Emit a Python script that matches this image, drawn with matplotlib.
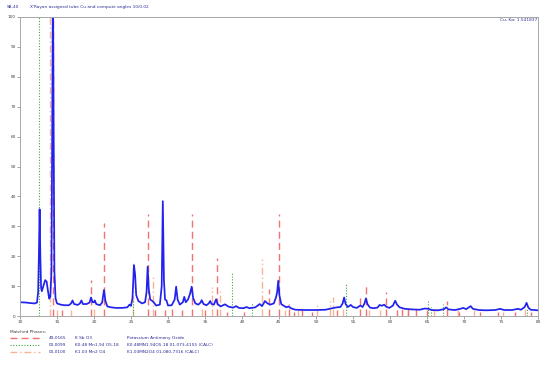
import matplotlib
matplotlib.use('Agg')
import matplotlib.pyplot as plt
import numpy as np

# measured profile (2theta, intensity %)
tt = [10.0, 10.8, 11.5, 12.0, 12.3, 12.45, 12.55, 12.65, 12.75, 12.85, 12.95, 13.15, 13.4, 13.6, 13.8,
      13.95, 14.1, 14.25, 14.35, 14.45, 14.55, 14.65, 14.8, 15.0, 15.5, 16.0, 16.6, 16.9, 17.1, 17.3,
      17.8, 18.1, 18.3, 18.5, 19.0, 19.4, 19.6, 19.8, 20.0, 20.1, 20.3, 20.8, 21.1, 21.35, 21.55,
      21.8, 22.3, 23.0, 23.8, 24.5, 24.8, 25.0, 25.2, 25.4, 25.55, 25.7, 26.0, 26.5, 26.9, 27.1,
      27.25, 27.4, 27.6, 28.0, 28.4, 28.9, 29.15, 29.3, 29.45, 29.6, 29.8, 30.0, 30.5, 30.9, 31.1,
      31.3, 31.6, 32.0, 32.2, 32.4, 32.7, 32.95, 33.2, 33.4, 33.7, 34.1, 34.4, 34.55, 34.8, 35.2,
      35.5, 35.7, 35.9, 36.2, 36.5, 36.7, 37.1, 37.7, 38.2, 38.8, 39.2, 39.6, 40.2, 40.6, 41.0,
      41.8, 42.4, 42.7, 43.1, 43.4, 43.8, 44.3, 44.6, 44.75, 44.9, 45.05, 45.3, 45.6, 46.0, 46.3,
      46.6, 47.2, 48.5, 50.0, 51.3, 52.0, 52.8, 53.3, 53.6, 53.8, 54.0, 54.3, 54.7, 55.0, 55.5,
      56.0, 56.3, 56.55, 56.75, 56.95, 57.3, 57.8, 58.3, 58.6, 58.9, 59.2, 59.5, 59.9, 60.4, 60.7,
      60.95, 61.3, 62.0, 63.0, 64.0, 64.7, 65.2, 65.6, 66.5, 67.3, 67.6, 67.9, 68.8, 69.5, 69.9,
      70.3, 70.9, 71.2, 72.0, 73.0, 74.2, 74.9, 75.4, 76.5, 77.3, 77.7, 78.2, 78.45, 78.7, 79.0, 80.0]
inten = [4.6, 4.5, 4.3, 4.2, 4.5, 8, 20, 35.7, 20, 9.5, 8.3, 10, 12, 11.5, 8,
         5.8, 6.5, 15, 60, 115, 60, 15, 6, 4.2, 3.8, 3.6, 3.6, 4.2, 5.2, 4.0,
         3.7, 4.2, 5.2, 4.0, 4.0, 4.5, 6.2, 4.6, 4.6, 5.2, 4.0, 3.6, 4.5, 8.7, 5.0,
         3.2, 2.9, 2.7, 2.7, 2.9, 3.8, 3.4, 6, 17, 14, 7, 5, 4.2, 4.6, 8,
         16.5, 9, 5.5, 4.8, 3.5, 3.8, 10, 38.4, 12, 5.5, 5.2, 3.5, 3.6, 5.5, 9.8,
         5.5, 3.8, 4.6, 6.4, 4.6, 5.5, 7.2, 9.8, 6, 4.2, 3.8, 4.5, 5.3, 4.0, 3.6,
         4.2, 5.0, 4.0, 3.8, 5.6, 4.0, 3.2, 3.9, 3.1, 2.8, 3.3, 2.7, 2.6, 3.0, 2.6,
         2.9, 4.0, 3.3, 5.0, 4.3, 3.8, 4.2, 6.3, 8, 11.8, 7, 4, 3.5, 2.9, 3.2,
         2.6, 2.1, 2.0, 2.0, 2.1, 2.5, 2.9, 3.0, 4.2, 6.2, 4.0, 3.0, 3.7, 3.0, 2.7,
         3.5, 3.0, 4.2, 5.9, 4.0, 2.8, 2.6, 2.8, 3.7, 3.4, 3.8, 3.1, 2.7, 3.5, 5.1,
         3.8, 2.9, 2.4, 2.2, 2.1, 2.5, 2.4, 2.0, 1.9, 2.3, 2.9, 2.2, 2.0, 2.4, 2.7,
         2.3, 3.3, 2.4, 2.0, 1.9, 2.0, 2.4, 2.0, 2.0, 2.4, 2.1, 3.0, 4.4, 2.8, 2.1, 1.9]

# reference patterns
ksbo3_pos = [14.45, 15.7, 19.6, 21.4, 27.3, 28.2, 29.6, 30.6, 31.9, 33.3, 35.0, 36.6, 38.0, 40.3,
             43.7, 45.0, 46.3, 47.0, 48.1, 49.5, 52.8, 55.9, 56.8, 59.5, 60.9, 61.6, 62.5, 63.5,
             65.0, 67.7, 69.3, 72.2, 74.6, 76.9, 79.0]
ksbo3_int = [100, 2, 12, 31, 34, 2, 2, 3, 2, 34, 2, 19.3, 1.5, 1.5,
             9, 34, 4, 1.5, 2, 1.5, 2, 6.3, 11.2, 8.1, 2, 3, 3, 3,
             2, 5, 1.5, 1.5, 1.5, 1.5, 1.5]
kmn5_pos = [12.6, 25.3, 38.7, 41.4, 54.0, 65.2, 65.6, 67.2, 78.5]
kmn5_int = [100, 5, 14.8, 4.3, 11, 5, 3, 4, 2.5]
kmn4_pos = [14.0, 15.0, 16.9, 20.0, 25.3, 28.0, 34.6, 36.0, 37.0, 42.65, 45.8, 47.6, 50.1, 51.9,
            52.3, 53.6, 57.2, 58.6, 62.4, 65.9, 69.2, 71.3, 75.3, 78.2]
kmn4_int = [100, 2, 2, 3, 18, 13.3, 3, 9.8, 8.7, 19.2, 2, 2, 4.3, 5,
            6.3, 3, 2, 2, 2, 2, 2, 2, 1.5, 3]

txt = '#2b2b95'
fs = 3.1
W, H = 550, 368

red = ('#f07272', (0, (5, 3)), 1.0)
green = ('#3aaa3a', (0, (1, 1.5)), 0.8)
orange = ('#f8b595', (0, (5, 2, 1, 2)), 1.0)

fig = plt.figure(figsize=(5.5, 3.68), dpi=100)
ax = fig.add_axes([20 / W, 1 - 316 / H, 518 / W, 299 / H])

ax.vlines(kmn4_pos, 0, kmn4_int, colors=orange[0], linestyles=orange[1], lw=orange[2])
ax.vlines(kmn5_pos, 0, kmn5_int, colors=green[0], linestyles=green[1], lw=green[2])
ax.vlines(ksbo3_pos, 0, ksbo3_int, colors=red[0], linestyles=red[1], lw=red[2])
ax.plot(tt, inten, color='#2222ee', lw=1.25)

ax.set_xlim(10, 80)
ax.set_ylim(0, 100)
ax.set_xticks(np.arange(10, 81, 5))
ax.set_yticks(np.arange(0, 101, 10))
ax.tick_params(labelsize=fs, length=2, width=0.5, colors='#808080', labelcolor='#404040', pad=1)
for s in ax.spines.values():
    s.set_color('#a8a8a8')
    s.set_linewidth(0.7)

fig.text(537 / W, 1 - 20 / H, 'Cu, K\u03b1: 1.541837', ha='right', va='center', fontsize=fs, color=txt)

fig.text(7 / W, 1 - 7 / H, 'SB-40', fontsize=fs, color=txt, va='center')
fig.text(30 / W, 1 - 7 / H, "X'Rayan assigned tube Cu and compute angles 10/0.02",
         fontsize=fs, color=txt, va='center')

# legend block
fig.text(10 / W, 1 - 332 / H, 'Matched Phases:', fontsize=fs, color='#404040', va='center')
codes = ['49-0165', '00-0099', '00-0100']
formulas = ['K Sb O3', 'K0.48 Mn1.94 O5.18', 'K1.03 Mn2 O4']
names = ['Potassium Antimony Oxide', 'K0.48MN1.94O5.18 01-073-4155 (CALC)',
         'K1.03MN2O4 01-080-7316 (CALC)']
styles = [red, green, orange]
for i in range(3):
    y = 1 - (338 + 7 * i) / H
    c, ls, lw = styles[i]
    fig.add_artist(plt.Line2D([10 / W, 40 / W], [y, y], color=c, linestyle=ls, lw=lw))
    fig.text(49 / W, y, codes[i], fontsize=fs, color=txt, va='center')
    fig.text(75 / W, y, formulas[i], fontsize=fs, color=txt, va='center')
    fig.text(127 / W, y, names[i], fontsize=fs, color=txt, va='center')

fig.savefig('out.png', dpi=100)
